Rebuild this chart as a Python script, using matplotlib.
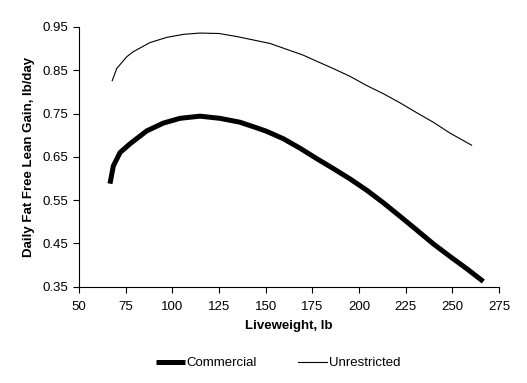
import matplotlib
matplotlib.use('Agg')
import matplotlib.pyplot as plt

# values
comm_x = [66.6, 68.4, 72.0, 77.3, 86.3, 95.2, 104.1, 114.8, 125.5, 136.2, 145.2, 150.5,
          159.4, 168.4, 177.3, 186.2, 195.2, 204.1, 213.0, 221.9, 230.9, 239.8, 248.7,
          257.6, 266.6]
comm_y = [0.588, 0.629, 0.660, 0.680, 0.710, 0.728, 0.739, 0.744, 0.739, 0.730, 0.717, 0.709,
          0.692, 0.670, 0.646, 0.623, 0.599, 0.573, 0.544, 0.513, 0.481, 0.449, 0.420,
          0.392, 0.362]
unr_x = [67.8, 70.2, 75.5, 79.1, 88.0, 97.0, 105.9, 114.8, 125.0, 134.5, 152.3,
         170.1, 177.3, 186.2, 195.2, 204.0, 213.0, 221.9, 230.9, 239.8, 248.7, 260.3]
unr_y = [0.826, 0.854, 0.881, 0.893, 0.914, 0.926, 0.933, 0.936, 0.935, 0.928, 0.912,
         0.885, 0.871, 0.854, 0.836, 0.815, 0.796, 0.775, 0.752, 0.730, 0.705, 0.677]

plt.rcParams['font.family'] = ['Liberation Sans', 'DejaVu Sans']

fig = plt.figure(figsize=(5.27, 3.83), dpi=100)
ax = fig.add_axes([79/527, 1-286.7/383, 420/527, 259.7/383])

ax.plot(comm_x, comm_y, color='black', linewidth=3.6, solid_capstyle='butt',
        solid_joinstyle='round', label='Commercial')
ax.plot(unr_x, unr_y, color='black', linewidth=0.8, label='Unrestricted')

ax.set_xlim(50, 275)
ax.set_ylim(0.35, 0.95)
ax.set_xticks(range(50, 276, 25))
ax.set_yticks([0.35, 0.45, 0.55, 0.65, 0.75, 0.85, 0.95])
ax.set_yticklabels(['0.35', '0.45', '0.55', '0.65', '0.75', '0.85', '0.95'])
ax.spines['top'].set_visible(False)
ax.spines['right'].set_visible(False)
ax.tick_params(axis='both', direction='out', length=4, width=0.8, labelsize=9.5, pad=4)
ax.tick_params(axis='x', pad=6)

ax.set_xlabel('Liveweight, lb', fontsize=9.5, fontweight='bold', labelpad=5)
ax.set_ylabel('Daily Fat Free Lean Gain, lb/day', fontsize=9.5, fontweight='bold', labelpad=5)

fig.legend(loc='center', bbox_to_anchor=(278/527, 1-363/383), ncol=2, frameon=False,
           fontsize=9.5, handlelength=2.2, handletextpad=0.15, columnspacing=3.1)

fig.savefig('out.png', dpi=100, facecolor='white')
